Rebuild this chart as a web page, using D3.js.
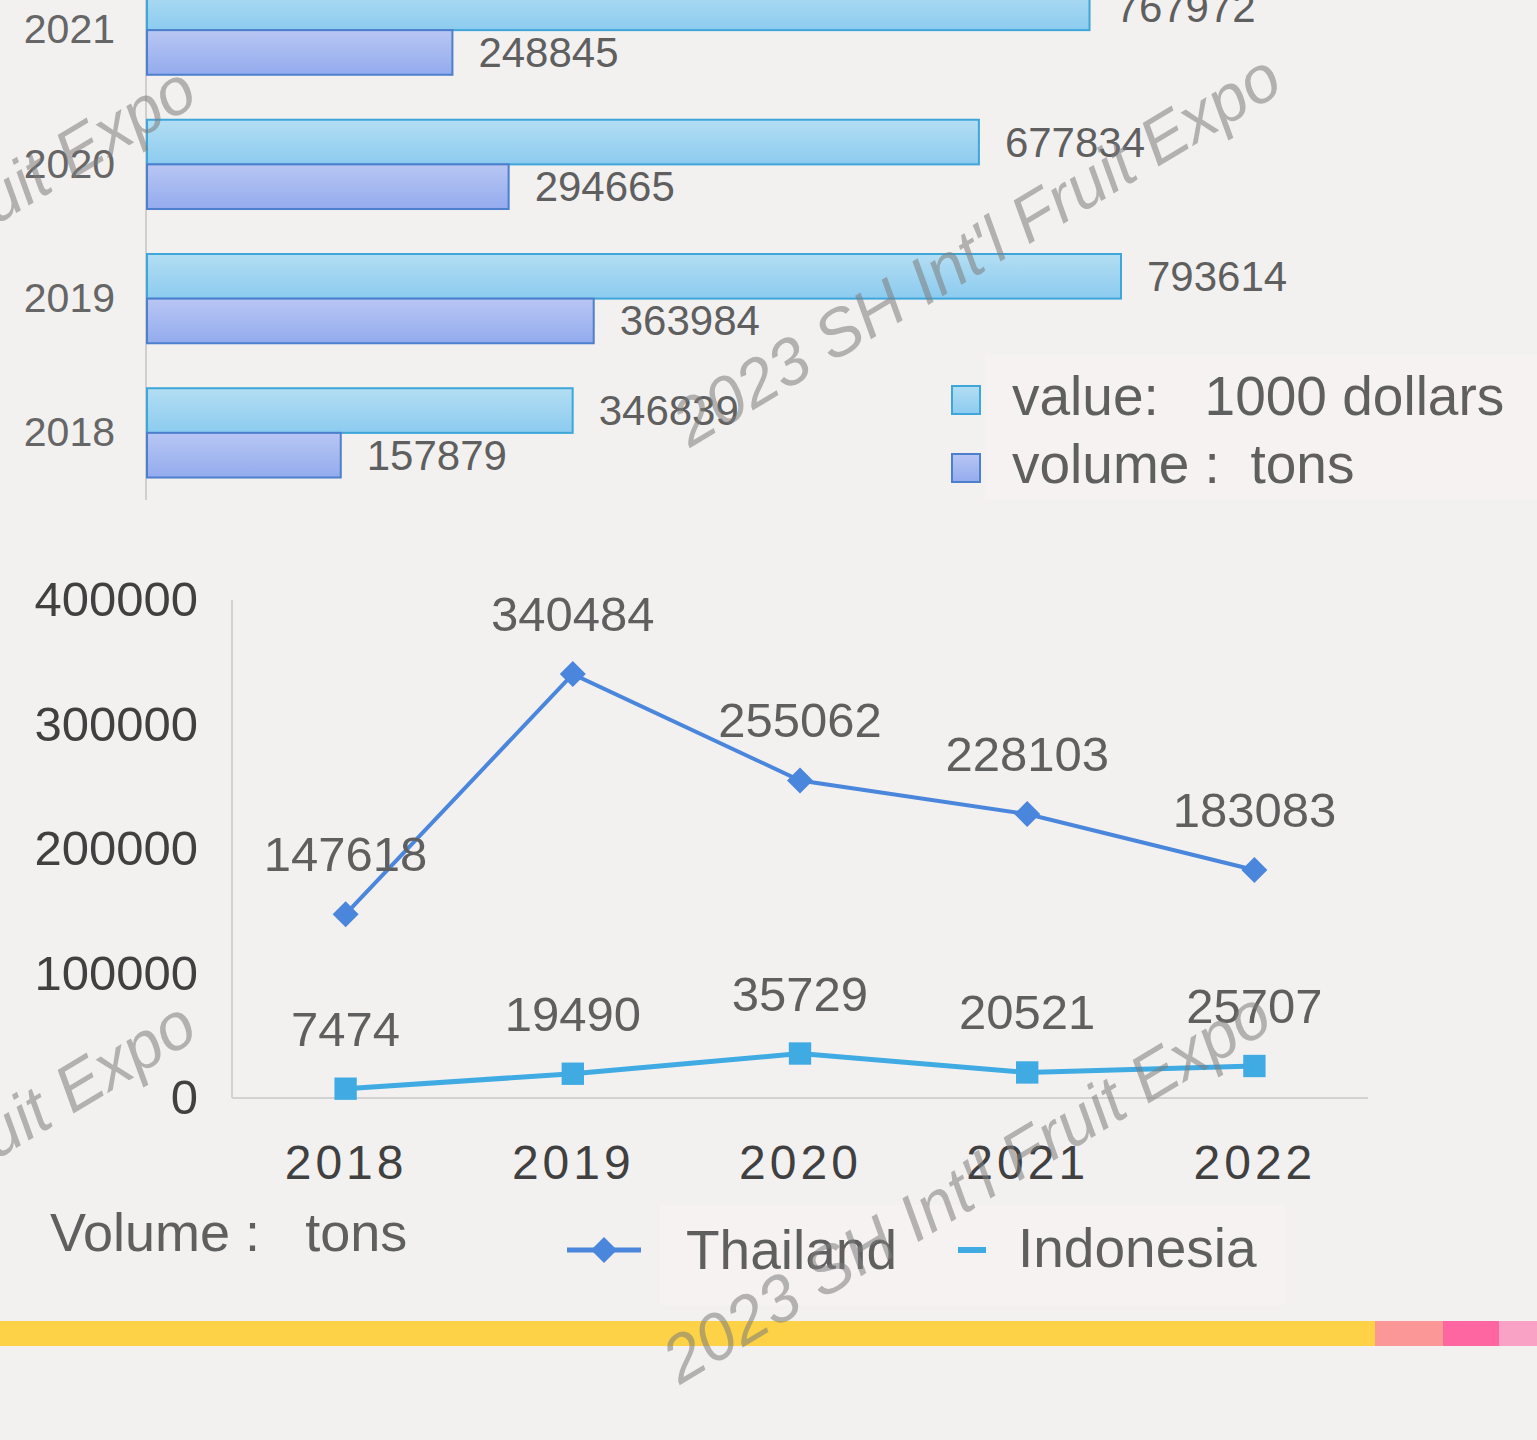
<!DOCTYPE html>
<html lang="en">
  <head>
    <meta charset="UTF-8" />
    <title>Thailand / Indonesia volume and value</title>
    <script src="https://d3js.org/d3.v7.min.js"></script>
    <style>
      body {
        margin: 0;
        background: #f2f0ef;
        font-family: "Liberation Sans", Arial, sans-serif;
      }
      svg {
        display: block;
      }
      svg text {
        white-space: pre;
      }
    </style>
  </head>
  <body>
    <div id="chart"></div>
    <script>
      // bar chart (top)
      const barYears = ["2021", "2020", "2019", "2018"]
      const valueK = [767972, 677834, 793614, 346839] // 1000 dollars
      const volumeT = [248845, 294665, 363984, 157879] // tons

      // line chart (bottom)
      const lineYears = ["2018", "2019", "2020", "2021", "2022"]
      const thailand = [147618, 340484, 255062, 228103, 183083]
      const indonesia = [7474, 19490, 35729, 20521, 25707]
      const yTicks = [0, 100000, 200000, 300000, 400000]

      const W = 1537,
        H = 1440
      const FONT = "Liberation Sans, Arial, sans-serif"

      const svg = d3.select("#chart").append("svg").attr("width", W).attr("height", H)

      const defs = svg.append("defs")
      const gradValue = defs.append("linearGradient").attr("id", "gValue").attr("x1", 0).attr("y1", 0).attr("x2", 0).attr("y2", 1)
      gradValue.append("stop").attr("offset", "0%").attr("stop-color", "#b3def3")
      gradValue.append("stop").attr("offset", "100%").attr("stop-color", "#8ccbef")
      const gradVol = defs.append("linearGradient").attr("id", "gVol").attr("x1", 0).attr("y1", 0).attr("x2", 0).attr("y2", 1)
      gradVol.append("stop").attr("offset", "0%").attr("stop-color", "#b8c6f3")
      gradVol.append("stop").attr("offset", "100%").attr("stop-color", "#93abee")

      svg.append("rect").attr("width", W).attr("height", H).attr("fill", "#f3f1f0")

      // ---------- top: horizontal bars ----------
      const barData = barYears.map((y, i) => ({ year: y, value: valueK[i], volume: volumeT[i] }))

      const xBar = d3.scaleLinear().domain([0, 1000000]).range([147, 1374.3])
      const yBar = d3.scaleBand().domain(barYears).range([-37, 500]).paddingInner(0.335).paddingOuter(0.1675)
      const ySub = d3.scaleBand().domain(["value", "volume"]).range([0, yBar.bandwidth()])
      const subFill = { value: "url(#gValue)", volume: "url(#gVol)" }
      const subStroke = { value: "#3fa6d9", volume: "#4d7fcc" }

      // legend box behind
      svg.append("rect").attr("x", 985).attr("y", 355).attr("width", 560).attr("height", 145).attr("fill", "#f7f3f3").attr("opacity", 0.8)

      svg.append("line").attr("x1", 146).attr("x2", 146).attr("y1", 0).attr("y2", 500).attr("stroke", "#cfcfcf").attr("stroke-width", 2)

      const rows = svg
        .selectAll(".row")
        .data(barData)
        .enter()
        .append("g")
        .attr("transform", d => `translate(0,${yBar(d.year)})`)

      ;["value", "volume"].forEach(k => {
        rows
          .append("rect")
          .attr("x", xBar(0))
          .attr("y", ySub(k))
          .attr("width", d => xBar(d[k]) - xBar(0))
          .attr("height", ySub.bandwidth())
          .attr("fill", subFill[k])
          .attr("stroke", subStroke[k])
          .attr("stroke-width", 2)

        rows
          .append("text")
          .attr("x", d => xBar(d[k]) + 26)
          .attr("y", ySub(k) + ySub.bandwidth() / 2)
          .attr("dominant-baseline", "central")
          .attr("font-size", 42)
          .attr("fill", "#5f5f5f")
          .text(d => d[k])
      })

      const yBarAxis = svg
        .append("g")
        .attr("transform", "translate(115,0)")
        .call(d3.axisLeft(yBar).tickSize(0).tickPadding(0))
      yBarAxis.select(".domain").remove()
      yBarAxis.selectAll("text").attr("font-size", 41).attr("font-family", FONT).attr("fill", "#666")

      const barLegend = [
        { label: "value:   1000 dollars", fill: "url(#gValue)", stroke: "#3fa6d9", y: 400 },
        { label: "volume :  tons", fill: "url(#gVol)", stroke: "#4d7fcc", y: 468 }
      ]
      barLegend.forEach(l => {
        svg.append("rect").attr("x", 952).attr("y", l.y - 14).attr("width", 28).attr("height", 28).attr("fill", l.fill).attr("stroke", l.stroke).attr("stroke-width", 2)
        svg.append("text").attr("x", 1012).attr("y", l.y - 4).attr("dominant-baseline", "central").attr("font-size", 55).attr("fill", "#5f5f5f").text(l.label)
      })

      // ---------- bottom: lines ----------
      const xLine = d3.scalePoint().domain(lineYears).range([232, 1368]).padding(0.5)
      const yLine = d3.scaleLinear().domain([0, 400000]).range([1098, 600])

      svg.append("line").attr("x1", 232).attr("x2", 232).attr("y1", 600).attr("y2", 1098).attr("stroke", "#d2d2d2").attr("stroke-width", 2)
      svg.append("line").attr("x1", 232).attr("x2", 1368).attr("y1", 1098).attr("y2", 1098).attr("stroke", "#d2d2d2").attr("stroke-width", 2)

      const yAx = svg
        .append("g")
        .attr("transform", "translate(198,0)")
        .call(d3.axisLeft(yLine).tickValues(yTicks).tickSize(0).tickPadding(0).tickFormat(d3.format("d")))
      yAx.select(".domain").remove()
      yAx.selectAll("text").attr("font-size", 49).attr("font-family", FONT).attr("fill", "#404040")

      const xAx = svg
        .append("g")
        .attr("transform", "translate(0,1145)")
        .call(d3.axisBottom(xLine).tickSize(0).tickPadding(0))
      xAx.select(".domain").remove()
      xAx.selectAll("text").attr("font-size", 48).attr("letter-spacing", 4).attr("font-family", FONT).attr("fill", "#404040")

      // rotated square = wide diamond marker
      const diamond = s => `M0,${-s}L${s},0L0,${s}L${-s},0Z`

      const series = [
        { name: "Thailand", values: thailand, color: "#4a86dc", width: 4, marker: diamond(13) },
        { name: "Indonesia", values: indonesia, color: "#40abe3", width: 5, marker: d3.symbol().type(d3.symbolSquare).size(500)() }
      ]

      const line = d3
        .line()
        .x(d => xLine(d.year))
        .y(d => yLine(d.v))

      series.forEach(s => {
        const pts = lineYears.map((y, i) => ({ year: y, v: s.values[i] }))
        svg.append("path").datum(pts).attr("d", line).attr("fill", "none").attr("stroke", s.color).attr("stroke-width", s.width)
        svg
          .selectAll(null)
          .data(pts)
          .enter()
          .append("path")
          .attr("d", s.marker)
          .attr("transform", d => `translate(${xLine(d.year)},${yLine(d.v)})`)
          .attr("fill", s.color)
        svg
          .selectAll(null)
          .data(pts)
          .enter()
          .append("text")
          .attr("x", d => xLine(d.year))
          .attr("y", d => yLine(d.v) - 60)
          .attr("text-anchor", "middle")
          .attr("dominant-baseline", "central")
          .attr("font-size", 49)
          .attr("fill", "#5f5f5f")
          .text(d => d.v)
      })

      svg.append("text").attr("x", 50).attr("y", 1232).attr("dominant-baseline", "central").attr("font-size", 54).attr("fill", "#5f5f5f").text("Volume :   tons")

      // line legend
      svg.append("rect").attr("x", 660).attr("y", 1205).attr("width", 625).attr("height", 100).attr("fill", "#f7f3f3").attr("opacity", 0.8)
      svg.append("line").attr("x1", 567).attr("x2", 641).attr("y1", 1250).attr("y2", 1250).attr("stroke", "#4a86dc").attr("stroke-width", 5)
      svg.append("path").attr("d", diamond(13)).attr("transform", "translate(604,1250)").attr("fill", "#4a86dc")
      svg.append("text").attr("x", 686).attr("y", 1250).attr("dominant-baseline", "central").attr("font-size", 55).attr("fill", "#5f5f5f").text("Thailand")
      svg.append("line").attr("x1", 958).attr("x2", 986).attr("y1", 1250).attr("y2", 1250).attr("stroke", "#40abe3").attr("stroke-width", 6)
      svg.append("text").attr("x", 1018).attr("y", 1248).attr("dominant-baseline", "central").attr("font-size", 55).attr("fill", "#5f5f5f").text("Indonesia")

      // bottom colour band
      const band = [
        { x0: 0, x1: 1375, c: "#fdd246" },
        { x0: 1375, x1: 1443, c: "#fc9797" },
        { x0: 1443, x1: 1499, c: "#fd66a0" },
        { x0: 1499, x1: 1537, c: "#f9a2c6" }
      ]
      svg
        .selectAll(".band")
        .data(band)
        .enter()
        .append("rect")
        .attr("x", d => d.x0)
        .attr("width", d => d.x1 - d.x0)
        .attr("y", 1321)
        .attr("height", 25)
        .attr("fill", d => d.c)

      // watermarks
      const marks = [
        [690, 448],
        [-395, 460],
        [680, 1385],
        [-395, 1395]
      ]
      marks.forEach(m => {
        svg
          .append("text")
          .attr("transform", `translate(${m[0]},${m[1]}) rotate(-31)`)
          .attr("font-size", 66)
          .attr("font-style", "italic")
          .attr("fill", "#7d7d7d")
          .attr("opacity", 0.55)
          .text("2023 SH Int'l Fruit Expo")
      })
    </script>
  </body>
</html>
